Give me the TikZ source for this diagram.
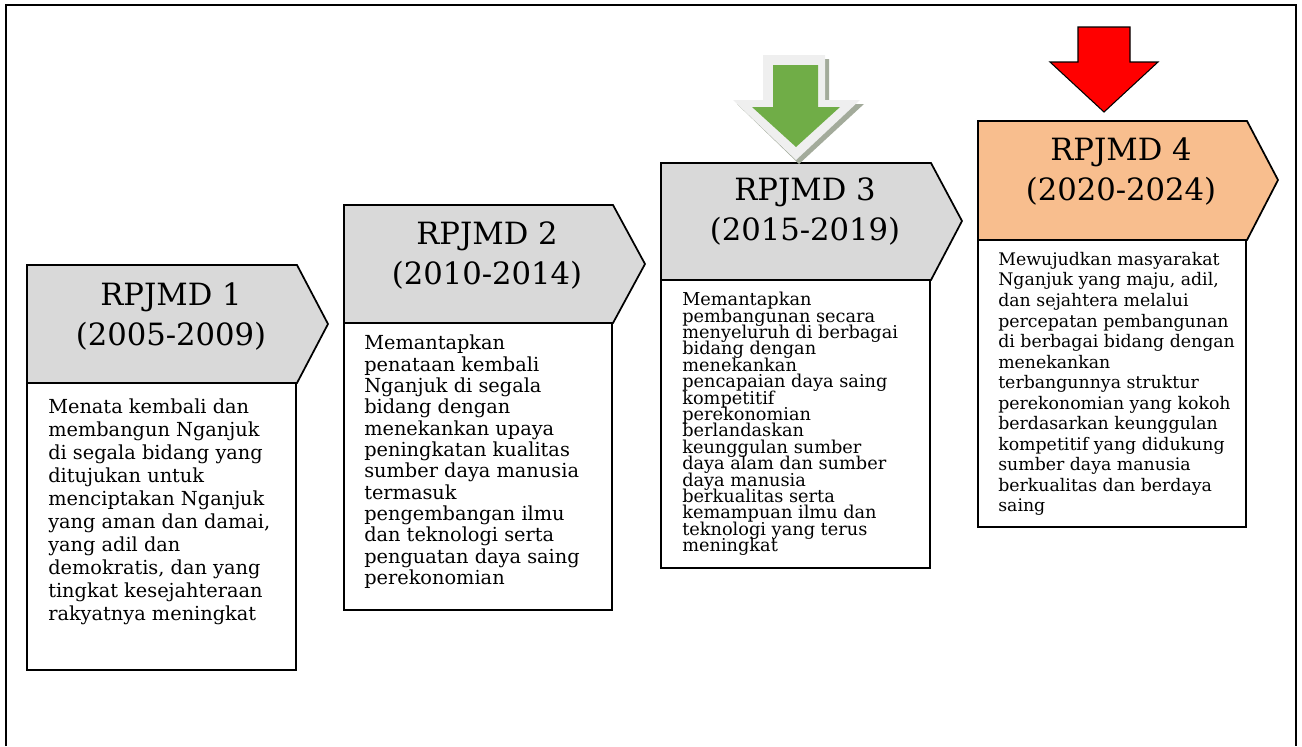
\documentclass[tikz,border=0pt]{standalone}
\usepackage{fontspec}
\setmainfont{DejaVu Serif}
\newcommand\mytightlines{\setlength{\lineskiplimit}{-100pt}\setlength{\lineskip}{0pt}}
\definecolor{hdrgrey}{HTML}{D9D9D9}
\definecolor{hdrpeach}{HTML}{F8BE8E}
\definecolor{arrgreen}{HTML}{70AD47}
\definecolor{arrlight}{HTML}{EFEFEF}
\definecolor{arrshadow}{HTML}{A3AB9B}
\definecolor{arrred}{HTML}{FF0000}
\tikzset{
  frameline/.style={line width=1.8pt, black},
  hdrshape/.style={draw=black, line width=1.3pt, line join=miter},
  bodybox/.style={draw=black, line width=1.3pt, fill=white},
  hdrtext/.style={align=center, inner sep=0pt, font=\fontsize{23}{30}\selectfont\mytightlines},
  bodytextA/.style={align=left, inner sep=0pt, anchor=north west, font=\fontsize{14.5}{17.25}\selectfont\mytightlines},
  bodytextB/.style={align=left, inner sep=0pt, anchor=north west, font=\fontsize{14.5}{16}\selectfont\mytightlines},
  bodytextC/.style={align=left, inner sep=0pt, anchor=north west, font=\fontsize{13.3}{12.3}\selectfont\mytightlines},
  bodytextD/.style={align=left, inner sep=0pt, anchor=north west, font=\fontsize{13}{15.4}\selectfont\mytightlines},
}
\begin{document}
\begin{tikzpicture}[x=0.75pt, y=-0.75pt]
\useasboundingbox (0,0) rectangle (1302,746);
% outer frame (bottom edge lies below the picture)
\draw[frameline] (6,746) -- (6,5) -- (1296,5) -- (1296,746);

% ---------- RPJMD 1 ----------
\draw[bodybox] (27,383) rectangle (296,670);
\draw[hdrshape, fill=hdrgrey] (27,265) -- (297,265) -- (328,324) -- (297,383) -- (27,383) -- cycle;
\node[hdrtext] (h1) at (171,317) {RPJMD 1\\(2005-2009)};
\node[bodytextA] (t1) at (48,399) {Menata kembali dan\\membangun Nganjuk\\di segala bidang yang\\ditujukan untuk\\menciptakan Nganjuk\\yang aman dan damai,\\yang adil dan\\demokratis, dan yang\\tingkat kesejahteraan\\rakyatnya meningkat};

% ---------- RPJMD 2 ----------
\draw[bodybox] (344,323) rectangle (612,610);
\draw[hdrshape, fill=hdrgrey] (344,205) -- (613,205) -- (645,264) -- (613,323) -- (344,323) -- cycle;
\node[hdrtext] (h2) at (487,256) {RPJMD 2\\(2010-2014)};
\node[bodytextB] (t2) at (364,335) {Memantapkan\\penataan kembali\\Nganjuk di segala\\bidang dengan\\menekankan upaya\\peningkatan kualitas\\sumber daya manusia\\termasuk\\pengembangan ilmu\\dan teknologi serta\\penguatan daya saing\\perekonomian};

% ---------- RPJMD 3 ----------
\draw[bodybox] (661,280) rectangle (930,568);
\draw[hdrshape, fill=hdrgrey] (661,163) -- (931,163) -- (962,221) -- (931,280) -- (661,280) -- cycle;
\node[hdrtext] (h3) at (805,212) {RPJMD 3\\(2015-2019)};
\node[bodytextC] (t3) at (682,292) {Memantapkan\\pembangunan secara\\menyeluruh di berbagai\\bidang dengan\\menekankan\\pencapaian daya saing\\kompetitif\\perekonomian\\berlandaskan\\keunggulan sumber\\daya alam dan sumber\\daya manusia\\berkualitas serta\\kemampuan ilmu dan\\teknologi yang terus\\meningkat};

% ---------- RPJMD 4 ----------
\draw[bodybox] (978,240) rectangle (1246,527);
\draw[hdrshape, fill=hdrpeach] (978,121) -- (1247,121) -- (1278,180) -- (1247,240) -- (978,240) -- cycle;
\node[hdrtext] (h4) at (1121,172) {RPJMD 4\\(2020-2024)};
\node[bodytextD] (t4) at (998,252) {Mewujudkan masyarakat\\Nganjuk yang maju, adil,\\dan sejahtera melalui\\percepatan pembangunan\\di berbagai bidang dengan\\menekankan\\terbangunnya struktur\\perekonomian yang kokoh\\berdasarkan keunggulan\\kompetitif yang didukung\\sumber daya manusia\\berkualitas dan berdaya\\saing};

% ---------- green arrow over RPJMD 3 ----------
\fill[arrshadow] (767,59) -- (829,59) -- (829,104) -- (864,104) -- (799,164) -- (737,104) -- (767,104) -- cycle;
\fill[arrlight] (763,55) -- (825,55) -- (825,100) -- (860,100) -- (796,160) -- (733,100) -- (763,100) -- cycle;
\fill[arrgreen] (773,65) -- (818,65) -- (818,107) -- (840,107) -- (796,147) -- (752,107) -- (773,107) -- cycle;

% ---------- red arrow over RPJMD 4 ----------
\draw[fill=arrred, draw=black, line width=0.8pt, line join=miter] (1078,27) -- (1130,27) -- (1130,62) -- (1158,62) -- (1104,112) -- (1050,62) -- (1078,62) -- cycle;
\end{tikzpicture}
\end{document}
